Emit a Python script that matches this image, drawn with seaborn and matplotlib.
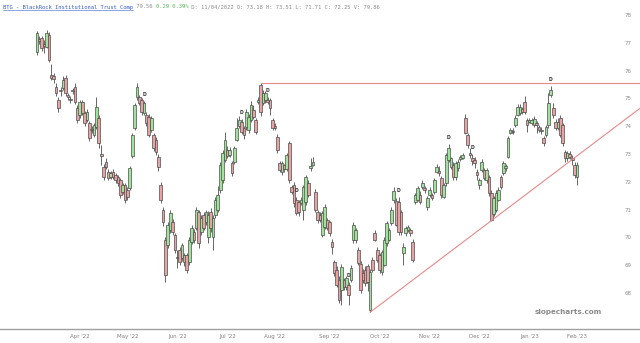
import numpy as np
import pandas as pd
import matplotlib
matplotlib.use("Agg")
import matplotlib.pyplot as plt
from matplotlib.lines import Line2D
import seaborn as sns

# ---------------- data ----------------
opens = [76.67, 77.12, 77.17, 76.95, 76.85, 77.28, 75.84, 75.80, 75.41, 74.94,
         75.25, 75.37, 75.73, 75.12, 74.99, 75.25, 75.41, 74.65, 74.40, 74.87,
         74.47, 74.22, 74.11, 73.86, 73.68, 73.97, 74.29, 73.00, 72.53, 72.71,
         72.35, 72.17, 72.35, 72.24, 72.17, 72.06, 71.64, 71.88, 71.71, 71.78,
         72.92, 73.93, 75.05, 75.05, 74.94, 74.47, 74.40, 74.33, 73.86, 73.68,
         73.50, 72.89, 71.88, 70.99, 69.91, 69.73, 70.27, 70.56, 70.09, 69.30,
         69.55, 69.26, 69.37, 69.37, 69.12, 69.84, 70.20, 70.34, 70.92, 70.20,
         70.81, 70.56, 70.00, 70.92, 70.02, 70.81, 70.99, 71.71, 72.06, 72.78,
         73.14, 72.96, 72.67, 72.71, 73.50, 74.00, 74.15, 73.93, 73.97, 73.86,
         74.22, 74.58, 74.22, 74.87, 75.48, 74.83, 74.94, 74.94, 74.94, 74.22,
         74.00, 73.61, 72.67, 72.35, 72.60, 72.45, 73.39, 71.82, 71.88, 71.35,
         71.28, 71.24, 70.99, 71.28, 71.95, 72.49, 72.60, 71.64, 70.92, 70.81,
         70.09, 70.38, 70.63, 70.56, 69.84, 69.12, 68.83, 68.47, 68.11, 68.47,
         68.22, 68.29, 68.47, 69.91, 69.91, 69.55, 69.05, 68.72, 68.83, 68.95,
         67.39, 69.19, 70.16, 69.55, 69.37, 68.76, 69.01, 69.80, 69.91, 70.52,
         71.35, 71.31, 71.28, 70.92, 69.44, 70.16, 70.27, 70.27, 69.84, 71.28,
         71.35, 71.53, 71.82, 71.78, 71.10, 71.53, 71.53, 71.64, 72.35, 72.40,
         72.13, 71.46, 71.95, 72.78, 72.53, 72.60, 72.17, 72.49, 72.81, 72.85,
         74.29, 73.68, 73.03, 72.85, 72.78, 72.35, 71.88, 72.42, 72.42, 72.06,
         72.17, 71.60, 70.85, 70.99, 71.35, 72.17, 72.31, 72.49, 72.89, 73.75,
         73.82, 74.04, 74.40, 74.47, 74.62, 74.87, 74.22, 74.15, 74.11, 74.04,
         74.11, 73.97, 73.82, 73.57, 73.68, 74.04, 75.12, 74.65, 74.15, 73.93,
         74.29, 74.04, 73.07, 72.85, 73.00, 72.85, 72.60, 72.17]
highs = [77.42, 77.25, 77.25, 77.10, 77.45, 77.40, 76.25, 75.90, 75.55, 75.05,
         75.40, 75.80, 75.85, 75.20, 75.10, 75.38, 75.55, 74.75, 74.95, 74.95,
         74.55, 74.60, 74.20, 74.00, 74.10, 75.05, 74.40, 73.32, 72.65, 72.85,
         72.45, 72.40, 72.45, 72.30, 72.25, 72.15, 71.95, 71.95, 71.80, 72.55,
         73.75, 74.85, 75.55, 75.12, 75.00, 74.90, 74.50, 74.45, 74.35, 73.75,
         73.60, 73.00, 72.00, 71.10, 70.00, 70.55, 71.00, 70.65, 70.15, 69.55,
         69.65, 69.80, 69.45, 69.45, 70.00, 70.45, 70.30, 71.10, 71.00, 70.80,
         70.90, 71.00, 70.95, 71.05, 70.80, 71.45, 71.85, 72.70, 73.15, 73.80,
         73.30, 73.25, 72.75, 73.30, 74.30, 74.35, 74.25, 74.00, 74.60, 74.45,
         74.90, 74.75, 74.30, 75.05, 75.55, 75.30, 75.25, 75.05, 75.00, 74.30,
         74.10, 73.70, 72.75, 72.75, 72.65, 73.05, 73.45, 71.90, 72.00, 71.45,
         71.35, 71.45, 71.90, 72.25, 72.05, 72.85, 72.90, 71.75, 71.00, 70.90,
         70.95, 71.20, 70.70, 70.60, 69.95, 69.20, 68.95, 68.60, 69.05, 68.55,
         68.60, 68.40, 69.00, 70.55, 70.35, 69.65, 69.15, 68.85, 68.95, 69.05,
         68.85, 69.30, 70.25, 69.65, 69.45, 69.55, 70.00, 70.60, 70.35, 71.10,
         71.80, 71.40, 71.45, 71.00, 69.80, 70.40, 70.45, 70.35, 69.95, 71.60,
         71.85, 71.65, 72.05, 71.85, 71.50, 71.80, 71.60, 72.15, 72.65, 72.55,
         72.20, 71.95, 73.05, 73.35, 72.90, 72.70, 72.75, 72.80, 72.95, 73.05,
         74.45, 73.75, 73.20, 73.00, 72.90, 72.45, 72.15, 72.80, 72.50, 72.50,
         72.25, 71.70, 71.50, 71.70, 71.80, 72.25, 72.75, 72.65, 73.65, 73.95,
         73.95, 74.40, 74.80, 74.80, 74.70, 75.10, 74.30, 74.30, 74.30, 74.35,
         74.20, 74.05, 73.97, 73.65, 74.05, 75.20, 75.45, 74.85, 74.25, 74.30,
         74.40, 74.10, 73.15, 73.10, 73.10, 72.95, 72.70, 72.70]
lows = [76.56, 76.95, 76.70, 76.63, 76.80, 76.30, 75.65, 75.55, 75.10, 74.50,
        75.10, 75.30, 75.10, 74.95, 74.85, 75.15, 74.80, 74.10, 74.30, 74.40,
        74.00, 74.15, 73.45, 73.75, 73.60, 73.90, 73.20, 72.60, 72.05, 72.45,
        72.05, 72.10, 72.10, 71.95, 71.85, 71.40, 71.55, 71.25, 71.35, 71.70,
        72.85, 73.85, 74.95, 74.75, 74.40, 74.40, 74.00, 73.60, 73.80, 73.10,
        72.95, 72.40, 71.25, 70.40, 68.40, 69.60, 70.15, 70.10, 69.45, 68.90,
        69.00, 69.15, 68.95, 68.70, 69.00, 69.75, 69.80, 70.25, 69.60, 70.10,
        70.25, 70.45, 69.80, 70.20, 69.55, 70.70, 70.90, 71.60, 71.95, 72.70,
        72.85, 72.90, 72.20, 72.65, 73.45, 73.95, 73.70, 73.55, 73.85, 73.75,
        74.15, 74.25, 73.70, 74.80, 74.35, 74.75, 74.85, 74.80, 74.40, 73.85,
        73.85, 73.05, 72.35, 72.25, 72.35, 72.40, 71.95, 71.55, 71.10, 70.80,
        70.75, 71.15, 70.63, 71.15, 71.45, 72.40, 72.55, 70.90, 70.50, 70.55,
        70.00, 70.30, 70.25, 70.05, 69.40, 68.60, 68.20, 67.65, 67.57, 68.10,
        68.10, 67.57, 68.40, 69.80, 69.80, 69.00, 68.00, 68.35, 68.25, 68.05,
        67.30, 68.75, 69.85, 69.10, 68.70, 68.65, 68.95, 69.70, 69.85, 70.45,
        71.25, 70.40, 70.10, 70.10, 69.00, 70.05, 70.20, 70.05, 69.10, 71.20,
        71.30, 71.20, 71.75, 71.60, 71.00, 71.45, 71.35, 71.55, 72.30, 72.20,
        71.40, 71.40, 71.85, 72.70, 72.45, 72.05, 72.05, 72.40, 72.75, 72.80,
        73.70, 73.20, 72.85, 72.60, 72.50, 72.05, 71.75, 72.35, 72.05, 71.95,
        71.50, 70.60, 70.75, 70.90, 71.30, 71.75, 72.25, 72.40, 72.85, 73.70,
        73.70, 73.97, 74.35, 74.40, 74.45, 74.45, 73.80, 74.10, 74.05, 73.97,
        73.75, 73.80, 73.70, 73.30, 73.60, 73.95, 75.05, 74.30, 73.85, 73.85,
        73.60, 73.30, 72.70, 72.75, 72.80, 72.60, 72.15, 71.90]
closes = [77.35, 77.08, 76.81, 76.90, 77.35, 76.38, 75.75, 75.68, 75.20, 74.65,
          75.30, 75.66, 75.20, 75.05, 74.94, 75.30, 74.87, 74.22, 74.87, 74.47,
          74.11, 74.51, 73.57, 73.90, 74.04, 74.69, 73.39, 72.94, 72.17, 72.53,
          72.13, 72.31, 72.17, 72.06, 71.95, 71.53, 71.88, 71.35, 71.46, 72.49,
          73.68, 74.76, 75.41, 74.83, 74.51, 74.83, 74.11, 73.68, 74.29, 73.21,
          73.07, 72.53, 71.35, 70.56, 68.65, 70.45, 70.88, 70.20, 69.55, 69.24,
          69.12, 69.73, 69.12, 68.83, 69.91, 70.34, 69.91, 70.99, 69.80, 70.70,
          70.34, 70.92, 70.81, 70.34, 70.70, 71.35, 71.53, 72.60, 73.03, 73.50,
          72.92, 73.14, 72.31, 73.21, 73.93, 74.22, 73.79, 73.68, 74.51, 74.33,
          74.76, 74.33, 73.79, 74.94, 74.51, 75.19, 75.19, 74.87, 74.65, 73.93,
          73.93, 73.14, 72.42, 72.67, 72.45, 72.96, 72.06, 71.64, 71.24, 70.88,
          70.92, 71.35, 71.82, 72.17, 71.53, 72.56, 72.71, 70.99, 70.63, 70.63,
          70.88, 71.10, 70.34, 70.16, 69.66, 68.72, 68.29, 67.75, 68.94, 68.22,
          68.54, 67.93, 68.90, 70.45, 70.27, 69.08, 68.11, 68.47, 68.36, 68.40,
          68.76, 68.83, 69.91, 69.19, 68.83, 69.48, 69.91, 70.52, 70.27, 70.99,
          71.68, 70.45, 70.20, 70.20, 69.66, 70.34, 70.38, 70.16, 69.19, 71.53,
          71.78, 71.28, 71.95, 71.71, 71.42, 71.71, 71.42, 72.06, 72.53, 72.30,
          71.53, 71.88, 72.96, 73.21, 72.85, 72.17, 72.67, 72.71, 72.89, 72.96,
          73.75, 73.32, 72.96, 72.76, 72.67, 72.24, 72.06, 72.71, 72.13, 72.42,
          71.60, 70.63, 71.42, 71.60, 71.71, 71.82, 72.67, 72.56, 73.57, 73.86,
          73.79, 74.29, 74.69, 74.69, 74.51, 74.51, 74.04, 74.22, 74.22, 74.26,
          74.04, 73.86, 73.86, 73.39, 73.97, 74.83, 75.30, 74.40, 73.93, 74.15,
          73.68, 73.39, 72.85, 73.03, 72.90, 72.78, 72.24, 72.60]

start_date = "2022-03-08"
market_holidays = ["2022-04-15", "2022-05-30", "2022-06-20", "2022-07-04",
                   "2022-09-05", "2022-11-24", "2022-12-26", "2023-01-02",
                   "2023-01-16"]
dividend_idx = [45, 86, 97, 109, 131, 152, 173, 183, 216]
resistance_idx = 94          # candle whose high starts the horizontal line
support_idx = [140, 191]     # candles whose lows define the rising trendline
ytick_values = [68, 69, 70, 71, 72, 73, 74, 75, 76, 77, 78]

header_parts = [
    ("BTG - BlackRock Institutional Trust Comp", "#3a5fcd"),
    (" 79.56 ", "#8c8c8c"),
    ("0.29 0.39%", "#5cb85c"),
    (" D: 11/04/2022 O: 73.18 H: 73.51 L: 71.71 C: 72.25 V: 79.86", "#8c8c8c"),
]
watermark = "slopecharts.com"

# ---------------- build ----------------
sns.set_theme(style="white")
plt.rcParams["font.family"] = ["DejaVu Sans"]

dates = pd.bdate_range(start=start_date, periods=len(opens), freq="C",
                       holidays=market_holidays)
df = pd.DataFrame({"date": dates, "open": opens, "high": highs,
                   "low": lows, "close": closes})
df["x"] = np.arange(len(df))
df["up"] = df["close"] >= df["open"]

W, H = 640, 343
fig = plt.figure(figsize=(W / 100, H / 100), dpi=100)
fig.patch.set_facecolor("white")
ax = fig.add_axes([0, 1 - 329 / H, 1, (329 - 10) / H])
ax.set_facecolor("white")

px_per_bar = 540 / 227
ax.set_xlim(-37 / px_per_bar, (W - 37) / px_per_bar)
ax.set_ylim(66.70, 78.18)

# wicks
ax.vlines(df["x"], df["low"], df["high"], color="#4d4d4d", linewidth=0.6, zorder=2)
# bodies
body_bottom = df[["open", "close"]].min(axis=1)
body_h = (df["close"] - df["open"]).abs().clip(lower=0.04)
fills = np.where(df["up"], "#9fe39a", "#e5a3a3")
ax.bar(df["x"], body_h, bottom=body_bottom, width=1.15, color=fills,
       edgecolor="#4d4d4d", linewidth=0.5, zorder=3)

# trend lines
xr = ax.get_xlim()[1]
res_y = df.loc[resistance_idx, "high"]
sns.lineplot(x=[resistance_idx, xr], y=[res_y, res_y], color="#e8898a",
             linewidth=0.8, ax=ax, zorder=4)
x0, x1 = support_idx
y0, y1 = df.loc[x0, "low"], df.loc[x1, "low"]
slope = (y1 - y0) / (x1 - x0)
sns.lineplot(x=[x0, xr], y=[y0, y0 + slope * (xr - x0)], color="#e8898a",
             linewidth=0.8, ax=ax, zorder=4)

# dividend markers
for i in dividend_idx:
    ax.text(i, df.loc[i, "high"] + 0.15, "D", fontsize=3.3, color="#333333",
            ha="center", va="bottom", fontweight="bold", zorder=5)

# x ticks at first trading day of each month
first_days = df.groupby(df["date"].dt.to_period("M"))["x"].min()
first_days = first_days[first_days > 0]
ax.set_xticks(first_days.values)
ax.set_xticklabels([df.loc[i, "date"].strftime("%b '%y") for i in first_days.values],
                   fontsize=4, color="#808080")
ax.tick_params(axis="x", length=0, pad=3.5)

# y ticks inside on the right
ax.yaxis.tick_right()
ax.set_yticks(ytick_values)
ax.set_yticklabels([str(v) for v in ytick_values])
ax.tick_params(axis="y", length=0, pad=-11, labelsize=4, labelcolor="#8c8c8c")
for lab in ax.get_yticklabels():
    lab.set_horizontalalignment("left")

for s in ["top", "left", "right"]:
    ax.spines[s].set_visible(False)
ax.spines["bottom"].set_color("#a0a0a0")
ax.spines["bottom"].set_linewidth(1.0)
ax.grid(False)

# watermark
fig.text(568 / W, 1 - 312 / H, watermark, ha="center", va="center",
         fontsize=5.2, color="#8a8a8a", fontweight="bold")

# header
fig.canvas.draw()
renderer = fig.canvas.get_renderer()
xpos = 3
for k, (txt, col) in enumerate(header_parts):
    t = fig.text(xpos / W, 1 - 7 / H, txt, ha="left", va="center", fontsize=4,
                 color=col, family="DejaVu Sans Mono")
    bb = t.get_window_extent(renderer=renderer)
    if k == 0:
        yline = (H - 10) / H
        fig.add_artist(Line2D([bb.x0 / W, bb.x1 / W], [yline, yline],
                              color=col, linewidth=0.4,
                              transform=fig.transFigure))
    xpos = bb.x1

fig.savefig("out.png", dpi=100)
